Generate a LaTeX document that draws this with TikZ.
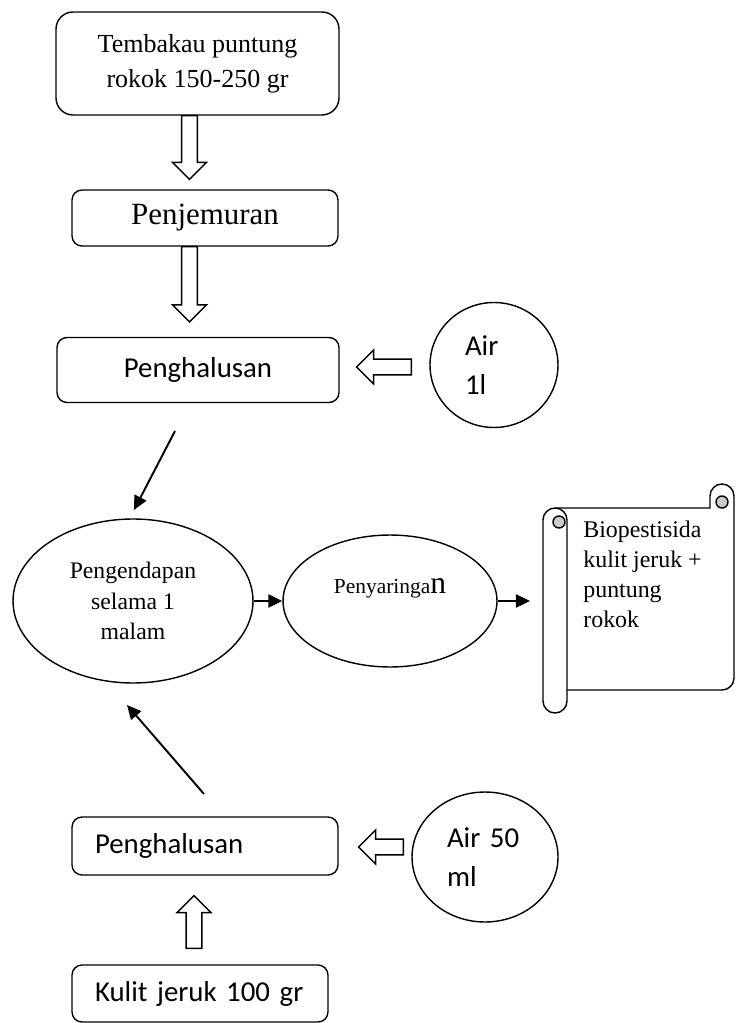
\documentclass[tikz,border=0pt]{standalone}
\usepackage{fontspec}
\setmainfont{Liberation Serif}
\newfontfamily\calibri{Carlito}
\usetikzlibrary{shapes.geometric,arrows.meta,calc}

% hollow block arrow from #1 to #2
\newcommand{\blockarrow}[2]{%
  \draw[blockarr] let \p1=(#1), \p2=(#2),
      \n1={atan2(\y2-\y1,\x2-\x1)}, \n2={veclen(\x2-\x1,\y2-\y1)} in
    [shift={(\p1)}, rotate=\n1]
    (0pt,-4.5pt) -- ({\n2*1pt-9.6pt},-4.5pt) -- ({\n2*1pt-9.6pt},-9.6pt)
    -- ({\n2*1pt},0pt) -- ({\n2*1pt-9.6pt},9.6pt) -- ({\n2*1pt-9.6pt},4.5pt)
    -- (0pt,4.5pt) -- cycle;}

\begin{document}
\begin{tikzpicture}[x=0.02cm, y=-0.02cm,
    box/.style={draw, rounded corners=0.2cm, line width=0.8pt, inner sep=0pt, align=center},
    oval/.style={draw, ellipse, line width=0.8pt, inner sep=0pt, align=center},
    bubble/.style={draw, ellipse, line width=0.8pt, inner sep=0pt, align=left,
                   font=\calibri\fontsize{16.4}{22}\selectfont},
    arrow/.style={line width=1.1pt, -{Triangle[length=8pt, width=7.5pt]}},
    blockarr/.style={line width=0.8pt, fill=white, line join=miter},
    scroll/.style={draw, line width=0.8pt, fill=white},
]
\useasboundingbox (0,0) rectangle (742,1023);

% Tembakau
\node[box, rounded corners=0.34cm, minimum width=5.66cm, minimum height=2.06cm,
      font=\fontsize{14.8}{19.8}\selectfont] (tembakau) at (197.5,63.5)
      {Tembakau puntung\\rokok 150-250 gr};
\node[box, minimum width=5.32cm, minimum height=1.12cm,
      font=\fontsize{17.6}{20}\selectfont] (jemur) at (205,218) {Penjemuran};
\node[box, minimum width=5.64cm, minimum height=1.3cm,
      font=\calibri\fontsize{16.4}{20}\selectfont] (halus1) at (198,370) {Penghalusan};
\node[bubble, minimum width=2.56cm, minimum height=2.5cm, text width=1.16cm]
      (air1) at (494,365) {Air\\1l};

% Pengendapan dan penyaringan
\node[oval, minimum width=4.8cm, minimum height=3.28cm,
      font=\fontsize{13.5}{17.3}\selectfont] (endap) at (133,601)
      {Pengendapan\\selama 1\\malam};
\node[oval, minimum width=4.28cm, minimum height=2.64cm,
      font=\fontsize{12.2}{14}\selectfont, text height=8pt, text depth=17pt]
      (saring) at (390,601) {Penyaringa{\fontsize{18}{18}\selectfont n}};

% Gulungan hasil
\draw[scroll] (555,508) -- (710,508) -- (710,496) arc[start angle=180, end angle=360, radius=12]
    -- (734,678) arc[start angle=0, end angle=90, radius=12] -- (567,690);
\filldraw[line width=0.8pt, fill=gray!40] (722,502) circle[radius=6];
\draw[scroll] (543,520) arc[start angle=180, end angle=360, radius=12]
    -- (567,701) arc[start angle=0, end angle=180, radius=12] -- cycle;
\filldraw[line width=0.8pt, fill=gray!40] (559,522) circle[radius=6];
\node[anchor=north west, inner sep=0pt, align=left,
      font=\fontsize{13.6}{17}\selectfont] (hasil) at (583,521)
      {Biopestisida\\kulit jeruk +\\puntung\\rokok};
\coordinate (gulung) at (530,601);

% Kulit jeruk
\node[box, minimum height=1.16cm, text width=4.4cm, inner xsep=0.46cm, align=left,
      font=\calibri\fontsize{16.4}{20}\selectfont] (halus2) at (205,846) {Penghalusan};
\node[bubble, minimum width=2.92cm, minimum height=2.6cm, text width=1.52cm]
      (air2) at (485,857) {Air 50\\ml};
\node[box, minimum height=1.14cm, text width=4.2cm, inner xsep=0.46cm, align=left,
      font=\calibri\fontsize{16.4}{20}\selectfont] (kulit) at (200,993.5) {Kulit jeruk 100 gr};

% Panah blok
\coordinate (a1top) at ($(tembakau.south)+(-8,0)$);
\coordinate (a1tip) at ($(jemur.north)+(-15.5,-10)$);
\coordinate (a2top) at ($(jemur.south)+(-15.5,0)$);
\coordinate (a2tip) at ($(halus1.north)+(-8.5,-15)$);
\coordinate (b1tail) at ($(air1.west)+(-18,2)$);
\coordinate (b1tip) at ($(halus1.east)+(17,-3)$);
\coordinate (b2tail) at ($(air2.west)+(-8,-10)$);
\coordinate (b2tip) at ($(halus2.east)+(20,1)$);
\coordinate (c1tail) at ($(kulit.north)+(-6,-16)$);
\coordinate (c1tip) at ($(halus2.south)+(-11,20)$);
\blockarrow{a1top}{a1tip}
\blockarrow{a2top}{a2tip}
\blockarrow{b1tail}{b1tip}
\blockarrow{b2tail}{b2tip}
\blockarrow{c1tail}{c1tip}

% Panah
\coordinate (d1a) at (175,431);
\coordinate (d1b) at (134,510);
\coordinate (d2a) at (204,794);
\coordinate (d2b) at (127,705);
\draw[arrow] (d1a) -- (d1b);
\draw[arrow] (endap) -- (saring);
\draw[arrow] (saring) -- (gulung);
\draw[arrow] (d2a) -- (d2b);

\end{tikzpicture}
\end{document}
